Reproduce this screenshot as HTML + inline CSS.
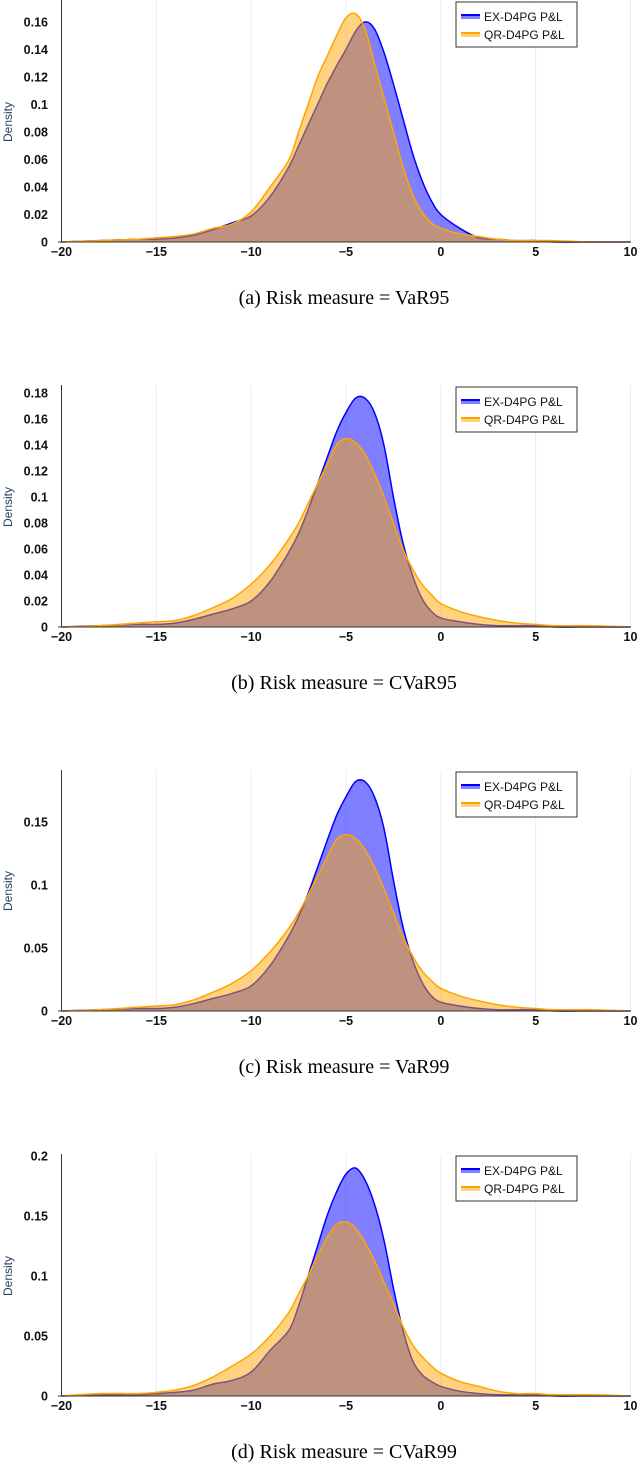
<!DOCTYPE html>
<html><head><meta charset="utf-8"><style>
body{margin:0;background:#fff;width:640px;height:1464px;overflow:hidden;}
svg{position:absolute;left:0;}
text{font-family:"Liberation Sans",sans-serif;}
.cap{font-family:"Liberation Serif",serif;font-size:20px;fill:#000;}
</style></head><body>
<div id="root"></div>
<script>
const xs=[-20,-18,-16,-15,-14,-13,-12,-11,-10,-9,-8,-7.5,-7,-6.5,-6,-5.5,-5,-4.5,-4,-3.5,-3,-2.5,-2,-1.5,-1,-0.5,0,1,2,3,4,5,6,8,10];
const exA=[0,0.001,0.002,0.002,0.003,0.005,0.009,0.014,0.019,0.033,0.055,0.07,0.085,0.1,0.115,0.128,0.14,0.153,0.16,0.155,0.138,0.115,0.09,0.065,0.045,0.03,0.02,0.01,0.003,0.002,0.001,0.001,0,0,0];
const qrA=[0,0.001,0.002,0.003,0.004,0.006,0.01,0.013,0.022,0.04,0.06,0.08,0.1,0.12,0.135,0.15,0.163,0.166,0.155,0.13,0.105,0.08,0.055,0.035,0.022,0.014,0.01,0.006,0.004,0.002,0.001,0.001,0.001,0,0];
const exB=[0,0.001,0.002,0.002,0.003,0.006,0.01,0.014,0.02,0.035,0.058,0.072,0.09,0.11,0.13,0.15,0.165,0.176,0.176,0.165,0.14,0.1,0.065,0.04,0.022,0.012,0.007,0.004,0.002,0.001,0.001,0.001,0,0,0];
const qrB=[0,0.001,0.003,0.004,0.005,0.009,0.015,0.022,0.033,0.048,0.068,0.08,0.095,0.11,0.125,0.14,0.145,0.142,0.133,0.118,0.1,0.08,0.06,0.045,0.033,0.025,0.018,0.012,0.008,0.005,0.003,0.002,0.001,0.001,0];
const exC=[0,0.001,0.002,0.002,0.003,0.006,0.01,0.014,0.02,0.036,0.06,0.075,0.093,0.114,0.135,0.155,0.17,0.182,0.182,0.17,0.145,0.104,0.067,0.041,0.023,0.012,0.007,0.004,0.002,0.001,0.001,0.001,0,0,0];
const qrC=[0,0.001,0.003,0.004,0.005,0.009,0.015,0.022,0.032,0.047,0.066,0.078,0.092,0.107,0.122,0.136,0.14,0.137,0.128,0.114,0.097,0.078,0.059,0.044,0.032,0.024,0.018,0.012,0.008,0.005,0.003,0.002,0.001,0.001,0];
const exD=[0,0.001,0.001,0.002,0.003,0.005,0.01,0.013,0.02,0.038,0.055,0.075,0.1,0.125,0.15,0.17,0.185,0.19,0.18,0.16,0.13,0.09,0.055,0.03,0.018,0.012,0.008,0.004,0.002,0.001,0.001,0.001,0,0,0];
const qrD=[0,0.002,0.002,0.003,0.005,0.009,0.016,0.025,0.035,0.05,0.07,0.085,0.1,0.117,0.132,0.143,0.145,0.14,0.128,0.113,0.095,0.077,0.058,0.043,0.033,0.025,0.019,0.012,0.008,0.004,0.002,0.002,0.001,0.001,0];
const xTicks=[-20,-15,-10,-5,0,5,10];
const yTicksA=[0,0.02,0.04,0.06,0.08,0.1,0.12,0.14,0.16];
const yTicksB=[0,0.02,0.04,0.06,0.08,0.1,0.12,0.14,0.16,0.18];
const yTicksC=[0,0.05,0.1,0.15];
const yTicksD=[0,0.05,0.1,0.15,0.2];
const panels=[
 {id:'a',top:0,y0:242,ppu:1375,ymax:0.176,ex:exA,qr:qrA,ticks:yTicksA,cap:'(a) Risk measure = VaR95'},
 {id:'b',top:385,y0:627,ppu:1300,ymax:0.186,ex:exB,qr:qrB,ticks:yTicksB,cap:'(b) Risk measure = CVaR95'},
 {id:'c',top:770,y0:1011,ppu:1260,ymax:0.19,ex:exC,qr:qrC,ticks:yTicksC,cap:'(c) Risk measure = VaR99'},
 {id:'d',top:1154,y0:1396,ppu:1200,ymax:0.2,ex:exD,qr:qrD,ticks:yTicksD,cap:'(d) Risk measure = CVaR99'}];
const NS='http://www.w3.org/2000/svg';
const sx=v=>61.5+(v+20)*(630.5-61.5)/30;
function el(t,a,p){const e=document.createElementNS(NS,t);for(const k in a)e.setAttribute(k,a[k]);p.appendChild(e);return e;}
function smooth(pts){let d='M'+pts[0][0]+','+pts[0][1];for(let i=0;i<pts.length-1;i++){const p0=pts[Math.max(0,i-1)],p1=pts[i],p2=pts[i+1],p3=pts[Math.min(pts.length-1,i+2)];
 const c1=[p1[0]+(p2[0]-p0[0])/6,p1[1]+(p2[1]-p0[1])/6],c2=[p2[0]-(p3[0]-p1[0])/6,p2[1]-(p3[1]-p1[1])/6];
 d+=' C'+c1[0].toFixed(1)+','+c1[1].toFixed(1)+' '+c2[0].toFixed(1)+','+c2[1].toFixed(1)+' '+p2[0].toFixed(1)+','+p2[1].toFixed(1);}return d;}
const svg=el('svg',{width:640,height:1464,viewBox:'0 0 640 1464'},document.getElementById('root'));


panels.forEach(P=>{
 const sy=v=>P.y0-v*P.ppu;
 const g=el('g',{},svg);
 
 
 xTicks.forEach(t=>{if(t>-20){const l=el('line',{x1:sx(t),x2:sx(t),y1:P.top,y2:P.y0,stroke:'#e8edf5','stroke-width':1},g);
  
  }});
 [['ex',P.ex,'rgba(0,0,255,0.5)','#0000ff'],['qr',P.qr,'rgba(255,165,0,0.5)','#ffa500']].forEach(([n,arr,f,s])=>{
  const pts=xs.map((x,i)=>[sx(x),sy(arr[i])]);const d=smooth(pts);
  const a=el('path',{d:d+' L'+sx(10)+','+P.y0+' L'+sx(-20)+','+P.y0+' Z',fill:f,stroke:'none'},g);
  
  
  const l=el('path',{d:d,fill:'none',stroke:s,'stroke-width':1.5},g);
  
  
 });
 el('line',{x1:61.5,x2:61.5,y1:P.top,y2:P.y0,stroke:'#333','stroke-width':1},g);
 el('line',{x1:58,x2:631,y1:P.y0,y2:P.y0,stroke:'#333','stroke-width':1},g);
 P.ticks.forEach(t=>{const tx=el('text',{x:48,y:sy(t)+4.5,'text-anchor':'end','font-size':12.5,'font-weight':'bold',fill:'#111'},g);tx.textContent=String(t);
  
  });
 xTicks.forEach(t=>{const tx=el('text',{x:sx(t),y:P.y0+14,'text-anchor':'middle','font-size':12.5,'font-weight':'bold',fill:'#111'},g);tx.textContent=t<0?'\u2212'+(-t):String(t);
  
  });
 const yl=el('text',{x:0,y:0,transform:'translate(12,'+(P.y0-120)+') rotate(-90)','text-anchor':'middle','font-size':12,fill:'#2a3f5f'},g);yl.textContent='Density';
 
 
 const lg=el('g',{},g);
 
 
 el('rect',{x:456,y:P.top+2,width:121,height:45,fill:'#fff',stroke:'#333','stroke-width':1},lg);
 [['EX-D4PG P&L','#0000ff','rgba(0,0,255,0.5)'],['QR-D4PG P&L','#ffa500','rgba(255,165,0,0.5)']].forEach(([t,c,f],i)=>{
  const yy=P.top+17+i*18;
  el('rect',{x:461,y:yy-3,width:19,height:5,fill:f},lg);
  el('line',{x1:461,x2:480,y1:yy-2,y2:yy-2,stroke:c,'stroke-width':2},lg);
  const tx=el('text',{x:484,y:yy+4,'font-size':12,fill:'#111'},lg);tx.textContent=t;
  
  
 });
 const cap=el('text',{x:344,y:P.y0+62,'text-anchor':'middle',class:'cap'},g);cap.textContent=P.cap;
 
 
});
</script>
</body></html>
